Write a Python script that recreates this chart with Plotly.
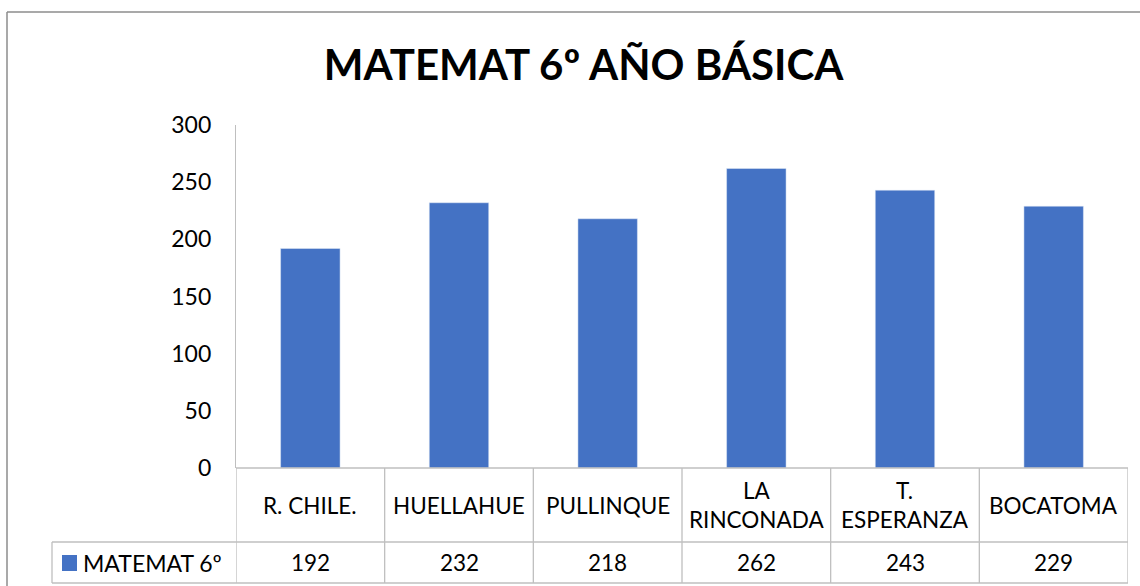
import plotly.graph_objects as go

categories = ["R. CHILE.", "HUELLAHUE", "PULLINQUE", "LA<br>RINCONADA", "T.<br>ESPERANZA", "BOCATOMA"]
values = [192, 232, 218, 262, 243, 229]
series_name = "MATEMAT 6º"
title_text = "MATEMAT 6º AÑO BÁSICA"
y_ticks = [0, 50, 100, 150, 200, 250, 300]

W, H = 1140, 586
FONT = "Lato"
BLUE = "#4472C4"
GRID = "#BFBFBF"

def px(x):
    return x / W

def py(y):
    return 1 - y / H

x0_px, x1_px = 236, 1128
y_top_px, y_zero_px = 125, 468
row1_bot, row2_bot = 542, 583
legend_left = 52

n = len(categories)
xs = list(range(n))

fig = go.Figure()
fig.add_trace(go.Bar(x=xs, y=values, marker_color=BLUE, name=series_name, width=0.4))

shapes = []
annotations = []

shapes.append(dict(type="line", xref="paper", yref="paper", x0=px(7), x1=px(7), y0=py(12), y1=0,
                   line=dict(color="#8C8C8C", width=1.5)))
shapes.append(dict(type="line", xref="paper", yref="paper", x0=px(7), x1=1, y0=py(12), y1=py(12),
                   line=dict(color="#8C8C8C", width=1.5)))

line_style = dict(color=GRID, width=1.3)
for i in range(n + 1):
    shapes.append(dict(type="line", xref="x", yref="paper", x0=i - 0.5, x1=i - 0.5,
                       y0=py(y_zero_px), y1=py(row2_bot), line=line_style))
for yy in [y_zero_px, row1_bot, row2_bot]:
    shapes.append(dict(type="line", xref="x", yref="paper", x0=-0.5, x1=n - 0.5,
                       y0=py(yy), y1=py(yy), line=line_style))
shapes.append(dict(type="line", xref="paper", yref="paper", x0=px(legend_left), x1=px(x0_px),
                   y0=py(row1_bot), y1=py(row1_bot), line=line_style))
shapes.append(dict(type="line", xref="paper", yref="paper", x0=px(legend_left), x1=px(x0_px),
                   y0=py(row2_bot), y1=py(row2_bot), line=line_style))
shapes.append(dict(type="line", xref="paper", yref="paper", x0=px(legend_left), x1=px(legend_left),
                   y0=py(row1_bot), y1=py(row2_bot), line=line_style))
shapes.append(dict(type="rect", xref="paper", yref="paper", x0=px(62), x1=px(77),
                   y0=py(571), y1=py(555), fillcolor=BLUE, line=dict(width=0)))

cell_font = dict(family=FONT, size=22.5, color="black")
for i, (c, v) in enumerate(zip(categories, values)):
    annotations.append(dict(x=i, xref="x", y=py((y_zero_px + row1_bot) / 2), yref="paper",
                            yanchor="middle", text=c, showarrow=False, font=cell_font, align="center"))
    annotations.append(dict(x=i, xref="x", y=py((row1_bot + row2_bot) / 2), yref="paper",
                            yanchor="middle", text=str(v), showarrow=False, font=cell_font))
annotations.append(dict(x=px(81), xref="paper", xanchor="left", y=py((row1_bot + row2_bot) / 2),
                        yref="paper", yanchor="middle", text=series_name, showarrow=False,
                        font=dict(family=FONT, size=23, color="black")))

fig.update_layout(
    width=W, height=H,
    margin=dict(l=0, r=0, t=0, b=0, autoexpand=False),
    paper_bgcolor="white", plot_bgcolor="white",
    showlegend=False,
    title=dict(text="<b>" + title_text + "</b>", x=0.512, xanchor="center", y=py(65), yanchor="middle",
               font=dict(family=FONT, size=42, color="black")),
    xaxis=dict(domain=[px(x0_px), px(x1_px)], range=[-0.5, n - 0.5], showticklabels=False,
               showgrid=False, zeroline=False, showline=False, ticks="", automargin=False),
    yaxis=dict(domain=[py(y_zero_px), py(y_top_px)], range=[0, 300], tickvals=y_ticks,
               showgrid=False, zeroline=False, showline=True, linecolor=GRID, linewidth=1.3,
               ticks="", ticklabelstandoff=19, automargin=False,
               tickfont=dict(family=FONT, size=23, color="black")),
    shapes=shapes,
    annotations=annotations,
)

fig.write_html("out.html", config={"displayModeBar": False},
               post_script="document.body.style.margin='0';")
